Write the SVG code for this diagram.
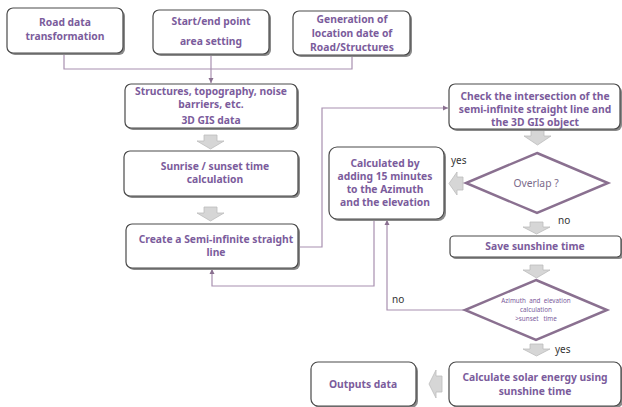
<svg xmlns="http://www.w3.org/2000/svg" width="622" height="407" viewBox="0 0 622 407">
<style>
.box{fill:#fff;stroke:#4a4a4a;stroke-width:1.2}
.sh{fill:#8a8a8a}
.t{font-family:"Noto Sans","Open Sans",sans-serif;font-weight:bold;font-size:10.3px;fill:#7b5c9c;text-anchor:middle}
.s{font-family:"Noto Sans",sans-serif;font-size:10px;fill:#333}
.st{font-family:"Noto Sans",sans-serif;font-size:6.3px;fill:#7b5c9c;text-anchor:middle;white-space:pre}
.c{fill:none;stroke:#a890b0;stroke-width:1.2}
.dia{fill:#fff;stroke:#8a7090;stroke-width:2.5}
.ba{fill:#d6d6d6;stroke:#bdbdbd;stroke-width:0.8}
</style>
<defs>
<marker id="ah" markerWidth="6" markerHeight="6" refX="5" refY="3" orient="auto" markerUnits="userSpaceOnUse">
<path d="M0,0.5 L5,3 L0,5.5 z" fill="#8a7090"/>
</marker>
</defs>
<g id="connectors">
<path class="c" d="M64,53 V69 H352 V55"/>
<path class="c" d="M211,54 V83" marker-end="url(#ah)"/>
<path class="c" d="M298,247 H322 V108 H448" marker-end="url(#ah)"/>
<path class="c" d="M374,219 V286 H212 V269" marker-end="url(#ah)"/>
<path class="c" d="M465,310 H387 V220" marker-end="url(#ah)"/>
<path class="ba" d="M204,135 H217 V141 H224 L210.5,149 L197,141 H204 Z"/>
<path class="ba" d="M204,207 H217 V213 H224 L210.5,221 L197,213 H204 Z"/>
<path class="ba" d="M531,130 H544 V136 H551 L537.5,145 L524,136 H531 Z"/>
<path class="ba" d="M463,177 V190 H457 V195 L449,183.5 L457,172 V177 Z"/>
<path class="ba" d="M530,222 H543 V227 H550 L536.5,234 L523,227 H530 Z"/>
<path class="ba" d="M530,265 H543 V270 H550 L536.5,278 L523,270 H530 Z"/>
<path class="ba" d="M530,344 H543 V349 H550 L536.5,356 L523,349 H530 Z"/>
<path class="ba" d="M442,376 V392 H436 V398 L429,384 L436,370 V376 Z"/>
<text class="s" x="451" y="164">yes</text>
<text class="s" x="558" y="224">no</text>
<text class="s" x="392" y="303">no</text>
<text class="s" x="555" y="353">yes</text>
</g>
<g id="n1"><rect class="sh" x="9" y="10" width="116" height="45" rx="6"/><rect class="box" x="7" y="8" width="116" height="45" rx="6"/><text class="t" x="65" y="26">Road data</text><text class="t" x="65" y="40">transformation</text></g>
<g id="n2"><rect class="sh" x="155" y="12" width="116" height="44" rx="6"/><rect class="box" x="153" y="10" width="116" height="44" rx="6"/><text class="t" x="211" y="25">Start/end point</text><text class="t" x="211" y="45">area setting</text></g>
<g id="n3"><rect class="sh" x="295" y="13" width="117" height="44" rx="6"/><rect class="box" x="293" y="11" width="117" height="44" rx="6"/><text class="t" x="352" y="23">Generation of</text><text class="t" x="352" y="37">location date of</text><text class="t" x="352" y="51">Road/Structures</text></g>
<g id="n4"><rect class="sh" x="127" y="86" width="172" height="44" rx="6"/><rect class="box" x="125" y="84" width="172" height="44" rx="6"/><text class="t" x="211" y="95">Structures, topography, noise</text><text class="t" x="211" y="108">barriers, etc.</text><text class="t" x="211" y="124">3D GIS data</text></g>
<g id="n5"><rect class="sh" x="126" y="153" width="174" height="45" rx="6"/><rect class="box" x="124" y="151" width="174" height="45" rx="6"/><text class="t" x="215" y="170">Sunrise / sunset time</text><text class="t" x="215" y="183">calculation</text></g>
<g id="n6"><rect class="sh" x="128" y="226" width="172" height="44" rx="6"/><rect class="box" x="126" y="224" width="172" height="44" rx="6"/><text class="t" x="216" y="243">Create a Semi-infinite straight</text><text class="t" x="216" y="256">line</text></g>
<g id="n7"><rect class="sh" x="331" y="149" width="115" height="72" rx="8"/><rect class="box" x="329" y="147" width="115" height="72" rx="8"/><text class="t" x="385" y="167">Calculated by</text><text class="t" x="385" y="180">adding 15 minutes</text><text class="t" x="385" y="193">to the Azimuth</text><text class="t" x="385" y="206">and the elevation</text></g>
<g id="n8"><rect class="sh" x="451" y="86" width="171" height="45" rx="6"/><rect class="box" x="449" y="84" width="171" height="45" rx="6"/><text class="t" x="535" y="100">Check the intersection of the</text><text class="t" x="535" y="113">semi-infinite straight line and</text><text class="t" x="535" y="126">the 3D GIS object</text></g>
<g id="n9"><polygon class="dia" points="537,153 608,183 537,213 466,183"/><text class="t" x="536" y="187" style="font-weight:normal;fill:#7a6a8a">Overlap ?</text></g>
<g id="n10"><rect class="sh" x="452" y="238" width="171" height="21" rx="4"/><rect class="box" x="450" y="236" width="171" height="21" rx="4"/><text class="t" x="535" y="250">Save sunshine time</text></g>
<g id="n11"><polygon class="dia" points="536,280 607,310 536,340 465,310"/><text class="st" x="536" y="303" xml:space="preserve">Azimuth  and  elevation</text><text class="st" x="536" y="312">calculation</text><text class="st" x="536" y="321" xml:space="preserve">&gt;sunset   time</text></g>
<g id="n12"><rect class="sh" x="451" y="364" width="172" height="44" rx="7"/><rect class="box" x="449" y="362" width="172" height="44" rx="7"/><text class="t" x="535" y="381">Calculate solar energy using</text><text class="t" x="535" y="395">sunshine time</text></g>
<g id="n13"><rect class="sh" x="313" y="364" width="105" height="44" rx="7"/><rect class="box" x="311" y="362" width="105" height="44" rx="7"/><text class="t" x="363" y="388">Outputs data</text></g>
</svg>
